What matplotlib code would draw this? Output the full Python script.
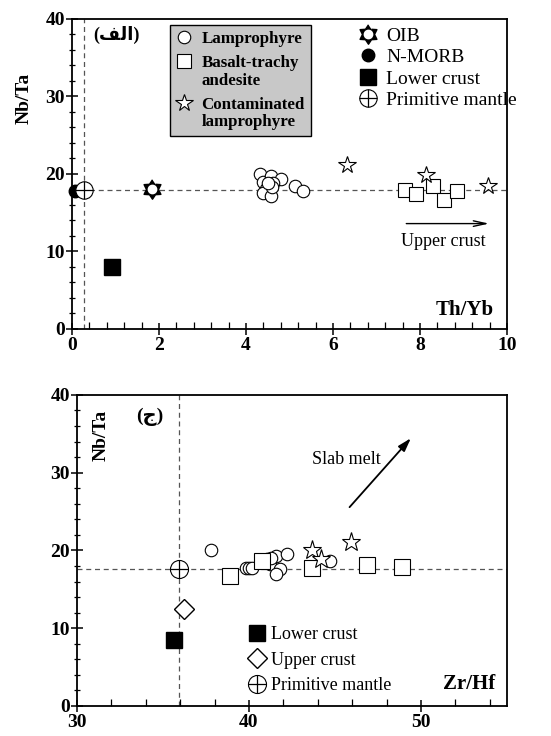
import matplotlib
matplotlib.use('Agg')
import matplotlib.pyplot as plt
import numpy as np
from matplotlib.ticker import MultipleLocator

# Fonts: serif for latin, DejaVu as fallback for the Arabic panel letters
plt.rcParams['font.family'] = ['Liberation Serif', 'DejaVu Sans']
plt.rcParams['font.weight'] = 'bold'

# ---- Data: Th/Yb vs Nb/Ta (panel alef) ----
lamp1_x = [4.31, 4.40, 4.57, 4.80, 4.63, 4.47, 4.40, 4.57, 5.13, 5.32, 4.60, 4.50]
lamp1_y = [20.0, 19.0, 19.7, 19.3, 18.8, 18.0, 17.6, 17.1, 18.5, 17.8, 18.3, 18.9]
bas1_x = [7.66, 7.91, 8.29, 8.55, 8.84]
bas1_y = [17.9, 17.4, 18.5, 16.6, 17.8]
cont1_x = [6.31, 8.13, 9.56]
cont1_y = [21.2, 19.9, 18.4]
oib1 = (1.85, 18.0)
nmorb1 = (0.06, 17.8)
lc1 = (0.91, 8.0)
pm1 = (0.28, 17.9)
upper_arrow1 = [(7.62, 13.6), (9.65, 13.6)]

# ---- Data: Zr/Hf vs Nb/Ta (panel jeem) ----
lamp2_x = [37.77, 39.83, 40.0, 40.19, 41.02, 41.56, 42.2, 41.2, 41.83, 41.56, 44.73, 41.3]
lamp2_y = [20.0, 17.8, 17.8, 17.8, 18.85, 19.35, 19.6, 18.3, 17.6, 17.0, 18.7, 19.0]
bas2_x = [38.92, 40.74, 43.64, 46.86, 48.92]
bas2_y = [16.7, 18.6, 17.7, 18.1, 17.9]
cont2_x = [43.64, 44.19, 45.93]
cont2_y = [20.1, 18.9, 21.1]
pm2 = (35.92, 17.65)
uc2 = (36.22, 12.5)
lc2 = (35.62, 8.46)
slab_arrow2 = [(45.74, 25.3), (49.52, 34.7)]

fig = plt.figure(figsize=(5.51, 7.36), dpi=100)
ax1 = fig.add_axes([0.1307, 0.553, 0.7895, 0.4212])
ax2 = fig.add_axes([0.1397, 0.0408, 0.7804, 0.4226])

dash = dict(color='#555555', lw=0.9, ls=(0, (4, 3)), zorder=1)
mk_open = dict(ls='none', mfc='white', mec='black', mew=0.8, zorder=3)

# sun-like 6 point star for OIB
ang = np.linspace(0, 2 * np.pi, 13)[:-1] + np.pi / 2
rad = np.where(np.arange(12) % 2 == 0, 1.0, 0.62)
sun_marker = list(zip(rad * np.cos(ang), rad * np.sin(ang)))


def style_axes(ax):
    for s in ax.spines.values():
        s.set_linewidth(1.3)
    ax.tick_params(axis='both', which='major', direction='inout', length=8, width=1.1, labelsize=14)
    ax.tick_params(axis='y', which='minor', direction='inout', length=5, width=0.9)
    ax.tick_params(axis='x', which='minor', direction='in', length=5, width=0.9)
    ax.tick_params(axis='x', pad=2)
    ax.tick_params(axis='y', pad=1)


def pm_handle(ax, x, y, ms):
    a, = ax.plot(x, y, marker='o', ms=ms, **{**mk_open, 'zorder': 4})
    b, = ax.plot(x, y, marker='+', ms=ms, mec='black', mew=0.9, ls='none', zorder=5)
    return (a, b)


# ================= Panel 1 =================
ax1.set_xlim(0, 10)
ax1.set_ylim(0, 40)
ax1.xaxis.set_major_locator(MultipleLocator(2))
ax1.xaxis.set_minor_locator(MultipleLocator(0.4))
ax1.yaxis.set_major_locator(MultipleLocator(10))
ax1.yaxis.set_minor_locator(MultipleLocator(2))
style_axes(ax1)

ax1.axhline(pm1[1], **dash)
ax1.axvline(pm1[0], **dash)

h_lamp, = ax1.plot(lamp1_x, lamp1_y, marker='o', ms=9, **mk_open)
h_bas, = ax1.plot(bas1_x, bas1_y, marker='s', ms=10, **mk_open)
h_cont, = ax1.plot(cont1_x, cont1_y, marker='*', ms=13, **mk_open)

o1, = ax1.plot(*oib1, marker=sun_marker, ms=14, mfc='black', mec='black', ls='none', zorder=4)
o2, = ax1.plot(*oib1, marker='o', ms=6, mfc='white', mec='white', ls='none', zorder=5)
h_nmorb, = ax1.plot(*nmorb1, marker='o', ms=9, mfc='black', mec='black', ls='none',
                    zorder=4, clip_on=False)
h_lc, = ax1.plot(*lc1, marker='s', ms=11, mfc='black', mec='black', ls='none', zorder=4)
h_pm = pm_handle(ax1, pm1[0], pm1[1], 12.5)

ax1.annotate('', xy=upper_arrow1[1], xytext=upper_arrow1[0],
             arrowprops=dict(arrowstyle='->,head_length=0.9,head_width=0.2', lw=1.0, color='black'))
ax1.text(8.54, 11.3, 'Upper crust', ha='center', va='center', fontsize=13, fontweight='normal')

ax1.text(-0.11, 0.745, 'Nb/Ta', transform=ax1.transAxes, rotation=90,
         ha='center', va='center', fontsize=14)
ax1.text(0.903, 0.061, 'Th/Yb', transform=ax1.transAxes, ha='center', va='center', fontsize=15)
ax1.text(0.101, 0.948, '(\ufed2\ufedf\ufe8d)', transform=ax1.transAxes,
         ha='center', va='center', fontsize=13)

leg1 = ax1.legend([h_lamp, h_bas, h_cont],
                  ['Lamprophyre', 'Basalt-trachy\nandesite', 'Contaminated\nlamprophyre'],
                  loc='upper left', bbox_to_anchor=(170 / 551, 1 - 25 / 736),
                  bbox_transform=fig.transFigure, borderaxespad=0,
                  fancybox=False, framealpha=1, facecolor='#c8c8c8', edgecolor='black',
                  prop=dict(family='Liberation Serif', weight='bold', size=12.2),
                  handlelength=0.9, handletextpad=0.6, labelspacing=0.5, borderpad=0.35)
leg1.get_frame().set_linewidth(1.0)
for t in leg1.get_texts():
    t.set_linespacing(1.1)
# put the marker beside the first line of a two-line label
for col in leg1._legend_handle_box.get_children():
    for row in col.get_children():
        row.align = 'top'
ax1.add_artist(leg1)

ax1.legend([(o1, o2), h_nmorb, h_lc, h_pm],
           ['OIB', 'N-MORB', 'Lower crust', 'Primitive mantle'],
           loc='upper left', bbox_to_anchor=(358 / 551, 1 - 27 / 736),
           bbox_transform=fig.transFigure, borderaxespad=0, frameon=False,
           prop=dict(family='Liberation Serif', weight='normal', size=14),
           handlelength=1.0, handletextpad=0.45, labelspacing=0.2, borderpad=0)

# ================= Panel 2 =================
ax2.set_xlim(30, 55)
ax2.set_ylim(0, 40)
ax2.xaxis.set_major_locator(MultipleLocator(10))
ax2.xaxis.set_minor_locator(MultipleLocator(2))
ax2.yaxis.set_major_locator(MultipleLocator(10))
ax2.yaxis.set_minor_locator(MultipleLocator(2))
style_axes(ax2)

ax2.axhline(pm2[1], **dash)
ax2.axvline(pm2[0], **dash)

ax2.plot(lamp2_x, lamp2_y, marker='o', ms=9, **mk_open)
ax2.plot(bas2_x, bas2_y, marker='s', ms=11, **mk_open)
ax2.plot(cont2_x, cont2_y, marker='*', ms=14, **mk_open)

h_lc2, = ax2.plot(*lc2, marker='s', ms=11, mfc='black', mec='black', ls='none', zorder=4)
h_uc2, = ax2.plot(*uc2, marker='D', ms=10, mfc='white', mec='black', mew=1.0, ls='none', zorder=4)
h_pm2 = pm_handle(ax2, pm2[0], pm2[1], 13)

ax2.annotate('', xy=slab_arrow2[1], xytext=slab_arrow2[0],
             arrowprops=dict(arrowstyle='-|>,head_length=0.8,head_width=0.25', lw=1.3, color='black'))
ax2.text(45.65, 31.7, 'Slab melt', ha='center', va='center', fontsize=13, fontweight='normal')

ax2.text(0.056, 0.871, 'Nb/Ta', transform=ax2.transAxes, rotation=90,
         ha='center', va='center', fontsize=14)
ax2.text(0.912, 0.071, 'Zr/Hf', transform=ax2.transAxes, ha='center', va='center', fontsize=15)
ax2.text(0.17, 0.929, '(\ufe9d)', transform=ax2.transAxes, ha='center', va='center', fontsize=14)

ax2.legend([h_lc2, h_uc2, h_pm2], ['Lower crust', 'Upper crust', 'Primitive mantle'],
           loc='upper left', bbox_to_anchor=(248 / 551, 1 - 626 / 736),
           bbox_transform=fig.transFigure, borderaxespad=0, frameon=False,
           prop=dict(family='Liberation Serif', weight='normal', size=13),
           handlelength=1.0, handletextpad=0.3, labelspacing=0.48, borderpad=0)

fig.savefig('out.png', dpi=100)
